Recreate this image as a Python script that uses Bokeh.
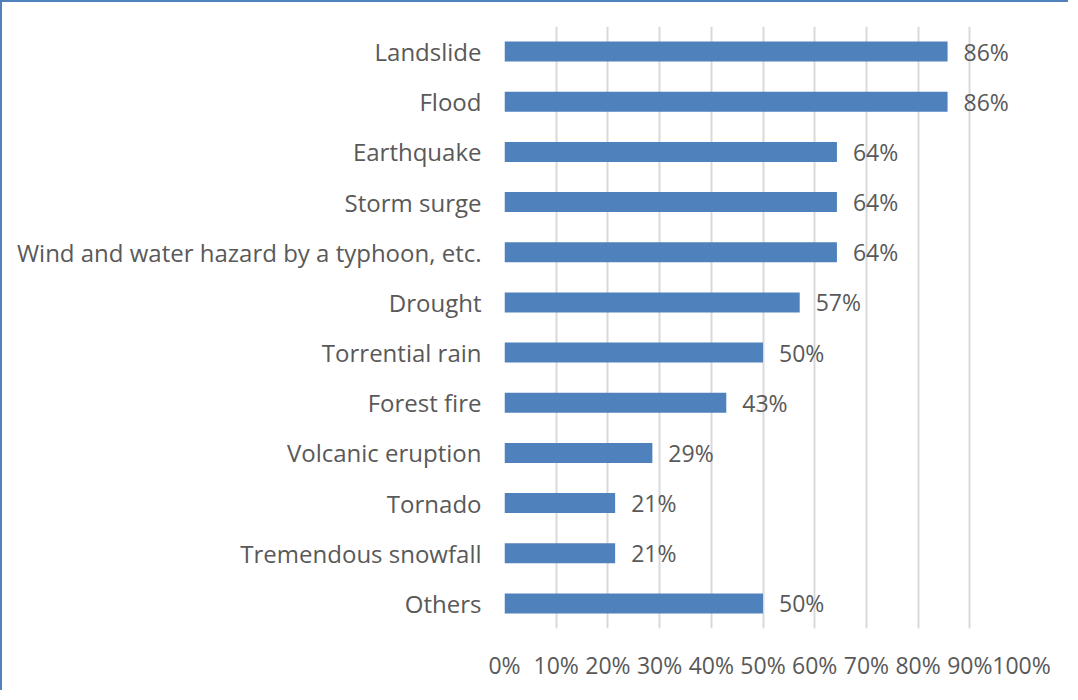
from bokeh.plotting import figure
from bokeh.models import FixedTicker, ColumnDataSource
from bokeh.core.properties import value
from bokeh.embed import file_html
from bokeh.resources import INLINE

categories = ["Landslide", "Flood", "Earthquake", "Storm surge",
              "Wind and water hazard by a typhoon, etc.", "Drought",
              "Torrential rain", "Forest fire", "Volcanic eruption",
              "Tornado", "Tremendous snowfall", "Others"]
values = [85.7, 85.7, 64.3, 64.3, 64.3, 57.1, 50.0, 42.9, 28.6, 21.4, 21.4, 50.0]
value_labels = ["86%", "86%", "64%", "64%", "64%", "57%", "50%", "43%", "29%", "21%", "21%", "50%"]
tick_values = [0, 10, 20, 30, 40, 50, 60, 70, 80, 90, 100]
tick_labels = ["0%", "10%", "20%", "30%", "40%", "50%", "60%", "70%", "80%", "90%", "100%"]

FONT = "Open Sans"
GRAY = "#595959"

src = ColumnDataSource(dict(cat=categories, val=values, lab=value_labels))

p = figure(width=1068, height=690, y_range=list(reversed(categories)),
           x_range=(0, 100), output_backend="svg", toolbar_location=None,
           min_border_left=502, min_border_right=49, min_border_top=24,
           min_border_bottom=64)
p.outline_line_color = None
p.background_fill_color = "white"
p.border_fill_color = "white"

p.hbar(y="cat", right="val", left=0, height=0.4, source=src,
       fill_color="#4F81BD", line_color=None)
p.text(x="val", y="cat", text="lab", source=src, x_offset=16,
       text_baseline="middle", text_align="left",
       text_font=value(FONT), text_font_size="23px", text_color=GRAY)

p.xaxis.ticker = FixedTicker(ticks=tick_values)
p.xaxis.major_label_overrides = {t: l for t, l in zip(tick_values, tick_labels)}
p.xaxis.axis_line_color = None
p.xaxis.major_tick_line_color = None
p.xaxis.minor_tick_line_color = None
p.xaxis.major_label_standoff = 14
p.xaxis.major_label_text_font = FONT
p.xaxis.major_label_text_font_size = "23px"
p.xaxis.major_label_text_color = GRAY

p.yaxis.axis_line_color = None
p.yaxis.major_tick_line_color = None
p.yaxis.minor_tick_line_color = None
p.yaxis.major_label_standoff = 17
p.yaxis.major_label_text_font = FONT
p.yaxis.major_label_text_font_size = "24px"
p.yaxis.major_label_text_color = GRAY

p.ygrid.grid_line_color = None
p.xgrid.grid_line_color = "#D9D9D9"
p.xgrid.grid_line_width = 2

p.styles = {"border-top": "2px solid #4F81BD", "border-left": "2px solid #4F81BD"}

open("out.html", "w").write(file_html(p, INLINE))
